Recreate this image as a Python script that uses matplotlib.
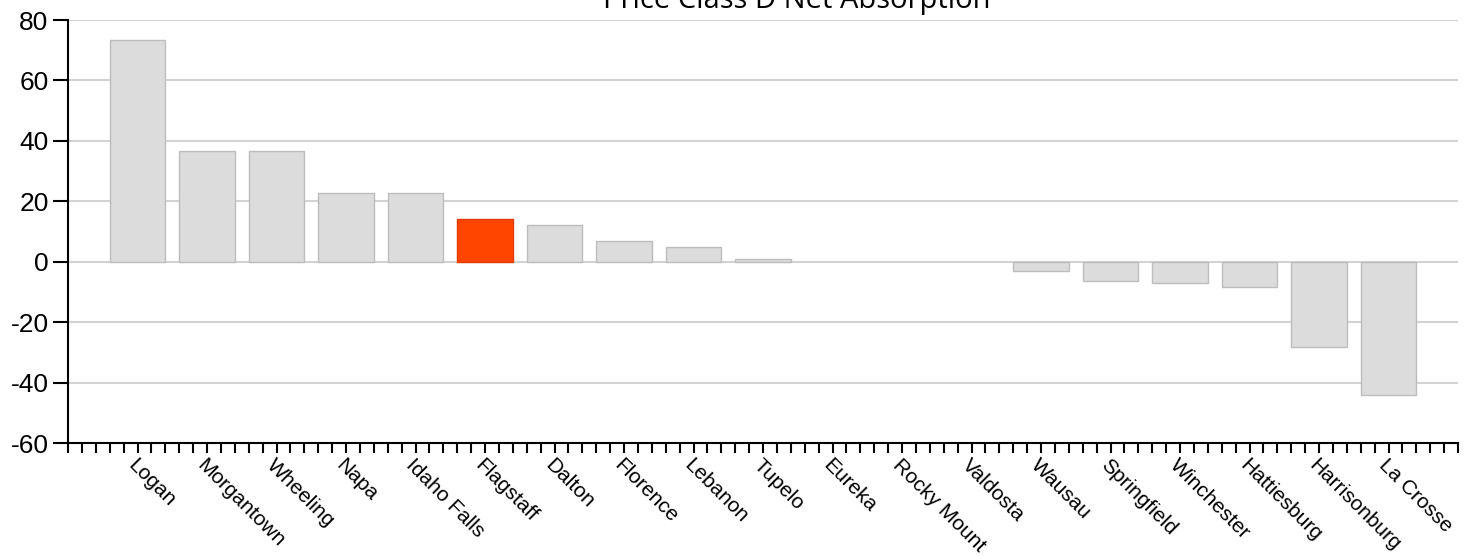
import numpy as np
import matplotlib.pyplot as plt
from matplotlib.ticker import MultipleLocator

# values
cities = ['Logan', 'Morgantown', 'Wheeling', 'Napa', 'Idaho Falls', 'Flagstaff',
          'Dalton', 'Florence', 'Lebanon', 'Tupelo', 'Eureka', 'Rocky Mount',
          'Valdosta', 'Wausau', 'Springfield', 'Winchester', 'Hattiesburg',
          'Harrisonburg', 'La Crosse']
absorption = [73.5, 36.8, 36.8, 22.8, 22.8, 14.2, 12.2, 7.0, 5.0, 1.0, 0, 0, 0,
              -3.0, -6.3, -7.0, -8.3, -28.1, -44.0]
highlight = 'Flagstaff'
y_ticks = [-60, -40, -20, 0, 20, 40, 60, 80]

fig = plt.figure(figsize=(14.72, 5.56), dpi=100)
ax = fig.add_axes([68 / 1472, 1 - 443 / 556, 1390 / 1472, 423 / 556])

x = np.arange(1, len(cities) + 1)
colors = ['#ff4500' if c == highlight else '#dcdcdc' for c in cities]
edges = ['#e03c00' if c == highlight else '#bdbdbd' for c in cities]
widths = [0 if v == 0 else 1 for v in absorption]
ax.bar(x, absorption, width=0.8, color=colors, edgecolor=edges, linewidth=widths, zorder=3)

ax.set_xlim(0, len(cities) + 1)
ax.set_ylim(-60, 80)
ax.set_yticks(y_ticks)
ax.set_yticklabels([str(v) for v in y_ticks], fontsize=19, family='Liberation Sans')
ax.yaxis.grid(True, color='#d3d3d3', linewidth=1.5, zorder=0)

ax.set_xticks(x)
ax.set_xticklabels(cities, rotation=-45, ha='left', va='top', rotation_mode='anchor',
                   fontsize=15, family='Liberation Sans')
ax.xaxis.set_minor_locator(MultipleLocator(0.2))
ax.tick_params(axis='x', which='both', length=7, width=1.5, direction='out', pad=2)
ax.tick_params(axis='y', length=11, width=1.5, direction='out', pad=3)

for side in ['top', 'right']:
    ax.spines[side].set_visible(False)
for side in ['left', 'bottom']:
    ax.spines[side].set_linewidth(1.5)

fig.text(797 / 1472, 1 - 8 / 556, 'Price Class D Net Absorption', ha='center',
         va='baseline', fontsize=21, family='Open Sans')

fig.savefig('out.png', dpi=100)
